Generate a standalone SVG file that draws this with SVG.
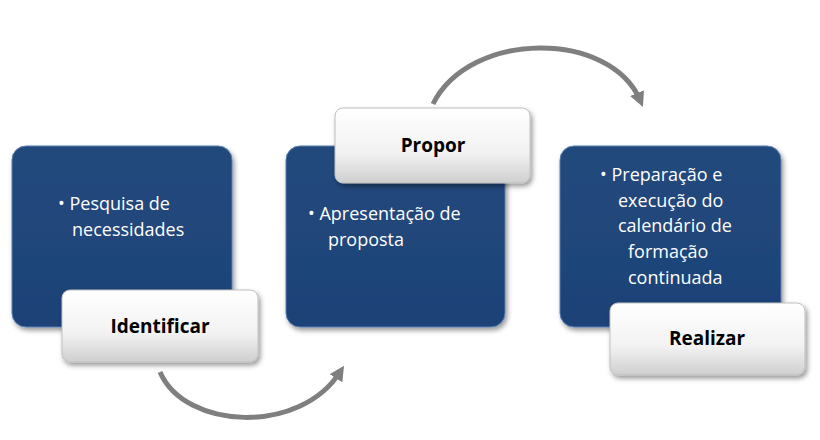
<svg xmlns="http://www.w3.org/2000/svg" width="820" height="440" viewBox="0 0 820 440">
<style>
.box{fill:url(#bg);stroke:#5a7fb0;stroke-width:1}
.lab{fill:url(#wg);stroke:#bfbfbf;stroke-width:1}
.t{font-family:"Open Sans","Liberation Sans",sans-serif;font-size:18px;fill:#fff}
.l{font-family:"Open Sans","Liberation Sans",sans-serif;font-size:19px;font-weight:bold;fill:#000;text-anchor:middle}
.arr{fill:none;stroke:#7f7f7f;stroke-width:5}
</style>
<defs>
<linearGradient id="bg" x1="0" y1="0" x2="0" y2="1"><stop offset="0" stop-color="#24497c"/><stop offset="1" stop-color="#1c4278"/></linearGradient>
<linearGradient id="wg" x1="0" y1="0" x2="0" y2="1"><stop offset="0" stop-color="#ffffff"/><stop offset="0.6" stop-color="#f2f2f2"/><stop offset="1" stop-color="#cfcfcf"/></linearGradient>
<marker id="ah" viewBox="0 0 10 10" refX="5" refY="5" markerWidth="3" markerHeight="3" orient="auto"><path d="M0,0 L10,5 L0,10 z" fill="#7f7f7f"/></marker>
<filter id="sh" x="-10%" y="-10%" width="130%" height="130%"><feDropShadow dx="2" dy="3" stdDeviation="2.5" flood-opacity="0.4"/></filter>
</defs>
<rect width="820" height="440" fill="#fff"/>
<g id="connectors">
<path class="arr" d="M160,372 C185,430 300,435 340,372" marker-end="url(#ah)"/>
<path class="arr" d="M433,104 C470,30 610,30 640,100" marker-end="url(#ah)"/>
</g>
<g id="n1">
<rect class="box" x="12" y="146" width="220" height="181" rx="14" filter="url(#sh)"/>
<text class="t" x="58" y="210">• Pesquisa de</text>
<text class="t" x="72" y="236">necessidades</text>
</g>
<g id="n2">
<rect class="box" x="286" y="146" width="219" height="181" rx="14" filter="url(#sh)"/>
<text class="t" x="308" y="220">• Apresentação de</text>
<text class="t" x="328" y="246">proposta</text>
</g>
<g id="n3">
<rect class="box" x="560" y="146" width="221" height="181" rx="14" filter="url(#sh)"/>
<text class="t" x="600" y="181">• Preparação e</text>
<text class="t" x="618" y="207">execução do</text>
<text class="t" x="618" y="232">calendário de</text>
<text class="t" x="628" y="258">formação</text>
<text class="t" x="628" y="284">continuada</text>
</g>
<g id="l1"><rect class="lab" x="62" y="290" width="196" height="72" rx="8" filter="url(#sh)"/><text class="l" x="160" y="333">Identificar</text></g>
<g id="l2"><rect class="lab" x="335" y="108" width="195" height="75" rx="8" filter="url(#sh)"/><text class="l" x="433" y="152">Propor</text></g>
<g id="l3"><rect class="lab" x="610" y="303" width="195" height="72" rx="8" filter="url(#sh)"/><text class="l" x="707" y="345">Realizar</text></g>
</svg>
